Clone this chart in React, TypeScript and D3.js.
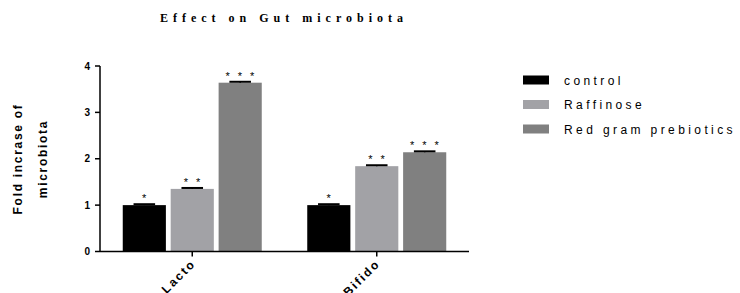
import React from "react";
import * as d3 from "d3";

const categories = ["Lacto", "Bifido"];
const seriesNames = ["control", "Raffinose", "Red gram prebiotics"];
const controlValues = [1.0, 1.0];
const raffinoseValues = [1.35, 1.84];
const redGramValues = [3.64, 2.14];
const errorValues = [
  [0.02, 0.02],
  [0.02, 0.02],
  [0.02, 0.02],
];
const significance = [
  ["*", "*"],
  ["* *", "* *"],
  ["* * *", "* * *"],
];
const yTicks = [0, 1, 2, 3, 4];
const colors = ["#000000", "#a2a2a6", "#808080"];

export default function App() {
  const W = 740, H = 293;
  const series = [controlValues, raffinoseValues, redGramValues];
  const x0 = d3.scaleBand().domain(categories).range([100, 469]).paddingInner(0).paddingOuter(0);
  const x1 = d3.scaleBand().domain(seriesNames).range([0, 139]).paddingInner(0.1);
  const y = d3.scaleLinear().domain([0, 4]).range([251.5, 66]);
  const groupOffset = (x0.bandwidth() - 139) / 2;
  const sans = "Arial, 'Liberation Sans', sans-serif";

  return (
    <svg width={W} height={H} style={{ position: "absolute", left: 0, top: 0 }}>
      <rect width={W} height={H} fill="#fff" />
      <text x={284} y={22} textAnchor="middle" fontFamily="'Liberation Serif', serif" fontWeight="bold" fontSize={12} letterSpacing={5}>
        Effect on Gut microbiota
      </text>
      {/* Y label */}
      <g transform="translate(22,159) rotate(-90)">
        <text x={0} y={0} textAnchor="middle" fontFamily={sans} fontWeight="bold" fontSize={12} letterSpacing={1.7}>
          Fold incrase of
        </text>
        <text x={0} y={25} textAnchor="middle" fontFamily={sans} fontWeight="bold" fontSize={12} letterSpacing={1.7}>
          microbiota
        </text>
      </g>
      {/* bars */}
      {categories.map((c, ci) => (
        <g key={c}>
          {series.map((vals, si) => {
            const bx = (x0(c) as number) + groupOffset + (x1(seriesNames[si]) as number);
            const bw = x1.bandwidth();
            const cx = bx + bw / 2;
            const top = y(vals[ci]);
            const errTop = y(vals[ci] + errorValues[si][ci]);
            return (
              <g key={si}>
                <rect x={bx} y={top} width={bw} height={y(0) - top} fill={colors[si]} />
                <line x1={cx} x2={cx} y1={top} y2={errTop} stroke="#000" strokeWidth={1.5} />
                <line x1={cx - bw * 0.25} x2={cx + bw * 0.25} y1={errTop} y2={errTop} stroke="#000" strokeWidth={2} />
                <text x={cx + 1} y={errTop - 2} textAnchor="middle" fontFamily={sans} fontSize={11} letterSpacing={2.5}>
                  {significance[si][ci]}
                </text>
              </g>
            );
          })}
        </g>
      ))}
      {/* Y axis */}
      <line x1={100} x2={100} y1={y(4)} y2={y(0)} stroke="#000" strokeWidth={1.5} />
      {yTicks.map((t) => (
        <g key={t}>
          <line x1={95} x2={100} y1={y(t)} y2={y(t)} stroke="#000" strokeWidth={1.5} />
          <text x={90} y={y(t) + 3.5} textAnchor="end" fontFamily={sans} fontWeight="bold" fontSize={10}>
            {t}
          </text>
        </g>
      ))}
      {/* X axis */}
      <line x1={100} x2={469} y1={y(0)} y2={y(0)} stroke="#000" strokeWidth={1.5} />
      {categories.map((c) => {
        const cx = (x0(c) as number) + x0.bandwidth() / 2;
        return (
          <g key={c}>
            <line x1={cx} x2={cx} y1={y(0)} y2={y(0) + 5} stroke="#000" strokeWidth={1.5} />
            <text transform={`translate(${cx + 4},${y(0) + 13}) rotate(-45)`} textAnchor="end" fontFamily={sans} fontWeight="bold" fontSize={12} letterSpacing={2}>
              {c}
            </text>
          </g>
        );
      })}
      {/* Legend */}
      {seriesNames.map((s, i) => (
        <g key={s} transform={`translate(523,${80 + i * 24.5})`}>
          <rect x={0} y={-4.5} width={26} height={9} fill={colors[i]} />
          <text x={41} y={4.5} fontFamily={sans} fontSize={12} letterSpacing={3.4}>
            {s}
          </text>
        </g>
      ))}
    </svg>
  );
}
